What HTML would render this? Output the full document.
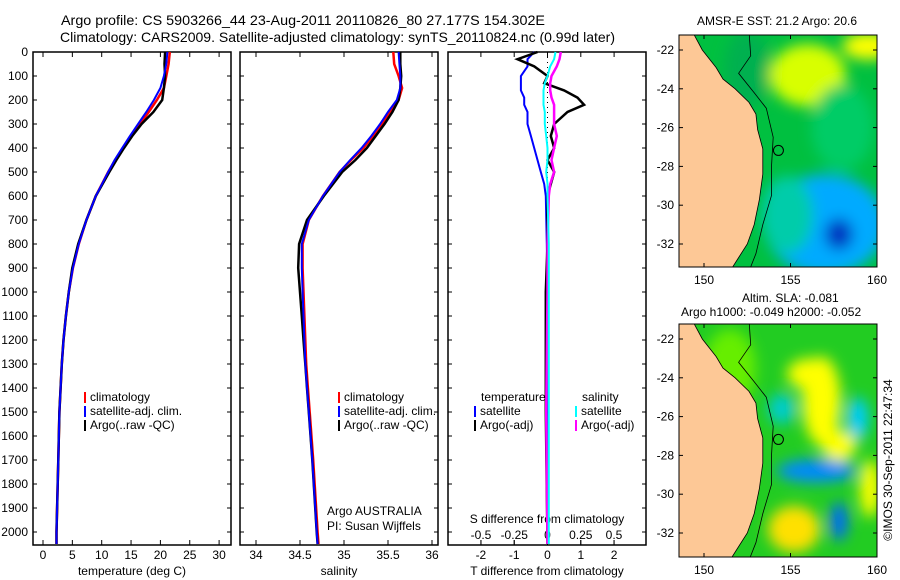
<!DOCTYPE html>
<html><head><meta charset="utf-8"><style>
body{margin:0;background:#fff;}
svg{display:block;font-family:"Liberation Sans",sans-serif;}
text{font-size:12px;fill:#000;}
</style></head><body>
<svg id="c" width="900" height="580" viewBox="0 0 900 580">
<defs>
<filter id="bl" x="-50%" y="-50%" width="200%" height="200%"><feGaussianBlur stdDeviation="7"/></filter>
<clipPath id="m1"><rect x="679" y="35" width="198" height="232"/></clipPath>
<clipPath id="m2"><rect x="679" y="324" width="198" height="233"/></clipPath>
</defs>
<text x="61" y="25" textLength="484" lengthAdjust="spacingAndGlyphs" style="font-size:14px">Argo profile: CS 5903266_44 23-Aug-2011 20110826_80 27.177S 154.302E</text>
<text x="60" y="42" textLength="555" lengthAdjust="spacingAndGlyphs" style="font-size:14px">Climatology: CARS2009. Satellite-adjusted climatology: synTS_20110824.nc (0.99d later)</text>
<g id="g"></g>
</svg>
<script>
// ---- data ----
const depths = [0,50,100,150,200,250,300,350,400,450,500,600,700,800,900,1000,1100,1200,1300,1400,1500,1700,2000,2050];
const tempClim = [21.6,21.4,21.0,20.6,19.4,18.0,16.6,15.1,13.6,12.3,11.1,9.0,7.4,6.1,5.1,4.4,3.9,3.5,3.2,3.0,2.8,2.6,2.3,2.3];
const tempSat  = [21.2,21.0,20.6,20.0,18.9,17.6,16.2,14.8,13.5,12.2,11.1,9.0,7.4,6.1,5.1,4.4,3.9,3.5,3.2,3.0,2.8,2.6,2.3,2.3];
const tempArgo = [20.8,20.7,20.8,20.6,20.3,18.8,16.8,15.2,13.8,12.5,11.3,9.0,7.4,6.0,5.0,4.4,3.9,3.5,3.2,3.0,2.8,2.6,2.3,2.3];
const salClim  = [35.56,35.57,35.62,35.66,35.62,35.52,35.43,35.33,35.22,35.08,34.95,34.76,34.60,34.53,34.53,34.54,34.55,34.56,34.57,34.59,34.61,34.65,34.70,34.71];
const salSat   = [35.62,35.63,35.64,35.64,35.60,35.50,35.41,35.31,35.20,35.07,34.95,34.76,34.60,34.52,34.52,34.53,34.54,34.55,34.56,34.58,34.60,34.64,34.69,34.70];
const salArgo  = [35.64,35.64,35.65,35.64,35.62,35.55,35.46,35.36,35.26,35.13,34.98,34.77,34.58,34.49,34.48,34.50,34.52,34.54,34.56,34.58,34.60,34.64,34.69,34.70];
const diffDepths = [0,30,60,100,130,160,190,220,250,300,350,400,450,500,550,600,800,1000,1500,2050];
const dTempSat  = [-0.4,-0.6,-0.6,-0.8,-0.8,-0.8,-0.7,-0.7,-0.6,-0.6,-0.5,-0.4,-0.3,-0.2,-0.1,-0.05,-0.02,0,0,0];
const dTempArgo = [-0.3,-0.9,-0.4,0.0,-0.1,0.5,0.9,1.1,0.6,0.2,0.1,0.2,0.0,0.2,0.1,0.0,0.0,-0.05,-0.05,0];
const dSalSat   = [0.06,0.05,0.02,0.0,-0.02,-0.03,-0.03,-0.03,-0.02,-0.02,-0.01,0.0,0.0,-0.01,0.0,0.0,0.01,0.01,0.01,0.01];
const dSalArgo  = [0.10,0.09,0.07,0.03,0.02,0.02,0.03,0.05,0.05,0.05,0.07,0.05,0.03,0.05,0.02,0.01,0.0,0.0,-0.01,0.0];
const depthTicks = [0,100,200,300,400,500,600,700,800,900,1000,1100,1200,1300,1400,1500,1600,1700,1800,1900,2000];
const tempTicks = [0,5,10,15,20,25,30];
const salTicks = [34,34.5,35,35.5,36];
const dTTicks = [-2,-1,0,1,2];
const dSTicks = [-0.5,-0.25,0,0.25,0.5];
const lonTicks = [150,155,160];
const latTicks = [-22,-24,-26,-28,-30,-32];

// ---- scales ----
const PB = 545;
const yD = d => 52 + d*0.24;
const xT = t => 43 + t*5.87;
const xS = s => 256 + (s-34)*88;
const xDT = t => 547.5 + t*33.3;
const xDS = s => 547.5 + s*133;
const NS='http://www.w3.org/2000/svg';
const G=document.getElementById('g');
function el(tag,attrs,parent){const e=document.createElementNS(NS,tag);for(const k in attrs)e.setAttribute(k,attrs[k]);(parent||G).appendChild(e);return e;}
function txt(x,y,s,anchor,size){const t=el('text',{x:x,y:y,'text-anchor':anchor||'start'});if(size)t.style.fontSize=size+'px';t.textContent=s;return t;}
function line(xs,ys,color,w,name){
  const pts=ys.map((v,i)=>xs(i).toFixed(1)+','+v.toFixed(1)).join(' ');
  const p=el('polyline',{points:pts,fill:'none',stroke:color,'stroke-width':w});
  
  
}
// panel frames
[[33,'temperature-panel'],[240,'salinity-panel'],[448,'difference-panel']].forEach(([x,n])=>{
  const r=el('rect',{x:x,y:52,width:198,height:PB-52,fill:'none',stroke:'#000','stroke-width':1.5});
  
  
});
depthTicks.forEach(d=>{
  const t=txt(28,yD(d)+4,String(d),'end');
  
  
  [33,240,448].forEach(x=>{el('line',{x1:x,x2:x+4,y1:yD(d),y2:yD(d),stroke:'#000'});el('line',{x1:x+198,x2:x+194,y1:yD(d),y2:yD(d),stroke:'#000'});});
});
function xticks(ticks,f,top){ticks.forEach(v=>{const x=f(v);el('line',{x1:x,x2:x,y1:PB,y2:PB-5,stroke:'#000'});if(top)el('line',{x1:x,x2:x,y1:52,y2:57,stroke:'#000'});
  const t=txt(x,559,String(v),'middle');});}
xticks(tempTicks,xT,true);xticks(salTicks,xS,true);xticks(dTTicks,xDT,true);
dSTicks.forEach(v=>{const x=xDS(v);el('line',{x1:x,x2:x,y1:PB,y2:PB-5,stroke:'#000'});const t=txt(x,539,String(v),'middle');});
let t;
t=txt(132,575,'temperature (deg C)','middle');
t=txt(339,575,'salinity','middle');
t=txt(547,575,'T difference from climatology','middle');
t=txt(547,523,'S difference from climatology','middle');
t=txt(327,515,'Argo AUSTRALIA');
t=txt(327,530,'PI: Susan Wijffels');
// zero dotted line
el('line',{x1:xDT(0),x2:xDT(0),y1:52,y2:PB,stroke:'#000','stroke-dasharray':'1,4'});
// profiles
line(i=>xT(tempClim[i]),depths.map(yD),'#f00',2.5,'temp-climatology-line');
line(i=>xT(tempArgo[i]),depths.map(yD),'#000',2.5,'temp-argo-line');
line(i=>xT(tempSat[i]),depths.map(yD),'#00f',2,'temp-satellite-line');
line(i=>xS(salClim[i]),depths.map(yD),'#f00',2.5,'sal-climatology-line');
line(i=>xS(salArgo[i]),depths.map(yD),'#000',2.5,'sal-argo-line');
line(i=>xS(salSat[i]),depths.map(yD),'#00f',2,'sal-satellite-line');
const dy=diffDepths.map(yD);
line(i=>xDT(dTempSat[i]),dy,'#00f',2,'tdiff-satellite-line');
line(i=>xDT(dTempArgo[i]),dy,'#000',2.5,'tdiff-argo-line');
line(i=>xDS(dSalArgo[i]),dy,'#f0f',2.5,'sdiff-argo-line');
line(i=>xDS(dSalSat[i]),dy,'#0ff',2,'sdiff-satellite-line');
// legends
function leg(x,y,c,s,n){el('rect',{x:x,y:y-9,width:2,height:11,fill:c});const t=txt(x+6,y,s);}
leg(84,401,'#f00','climatology','legend-climatology');leg(84,415,'#00f','satellite-adj. clim.','legend-satellite');leg(84,429,'#000','Argo(..raw -QC)','legend-argo');
leg(338,401,'#f00','climatology','legend-climatology-2');leg(338,415,'#00f','satellite-adj. clim.','legend-satellite-2');leg(338,429,'#000','Argo(..raw -QC)','legend-argo-2');
t=txt(481,401,'temperature');
t=txt(582,401,'salinity');
leg(474,415,'#00f','satellite','legend-t-satellite');leg(474,429,'#000','Argo(-adj)','legend-t-argo');
leg(575,415,'#0ff','satellite','legend-s-satellite');leg(575,429,'#f0f','Argo(-adj)','legend-s-argo');

// ---- maps ----
const mapLon = lon => 704 + (lon-150)*17.3;
const mapLat = (lat,oy) => oy + 15 + (-22-lat)*19.4;
const coast = [[149.3,-21.0],[149.9,-22],[150.7,-22.9],[151.1,-23.5],[151.8,-24.0],[152.6,-24.7],[153.0,-25.3],[153.1,-26.1],[153.4,-27.1],[153.4,-28.4],[153.2,-29.7],[152.9,-31.0],[152.5,-32.0],[152.0,-32.7],[151.5,-33.4]];
const isobath = [[152.6,-21.0],[152.7,-22.3],[152.0,-23.2],[152.9,-24.2],[153.6,-25.0],[154.0,-26.5],[153.9,-28.0],[153.9,-29.5],[153.4,-31.0],[153.0,-32.5],[152.6,-33.4]];
const sstBlobs = [[156,-23.3,2.2,1.6,'#d8ff00'],[159.5,-21.8,1.5,0.7,'#ffff00'],[152.5,-23,1.3,2,'#00b050'],[157,-31,3.5,2.6,'#00aaff'],[157.8,-31.5,0.8,0.8,'#0030c0'],[154.8,-30.5,1.5,2,'#00ccaa'],[158,-26,1.8,2.2,'#00cc66']];
const slaBlobs = [[156.8,-25.2,1.1,2.3,'#ffff00'],[156.1,-23.8,1.3,0.8,'#ffff00'],[157.8,-27.5,1,0.8,'#ffff00'],[154.5,-25.6,0.8,0.8,'#00cccc'],[158.9,-26.1,0.6,1.1,'#00ccff'],[156.5,-28.8,2.3,0.6,'#0088ff'],[155.2,-31.8,1.5,1.2,'#ffe000'],[157.8,-31.4,0.5,1,'#0066ff'],[159.6,-29.7,0.6,1.5,'#ffff00'],[151.5,-23.5,1.5,2,'#66ee00']];
function drawMap(oy,h,clip,bg,blobs,name){
  const g=el('g',{'clip-path':'url(#'+clip+')'});
  
  
  el('rect',{x:679,y:oy,width:198,height:h,fill:bg},g);
  const bg2=el('g',{filter:'url(#bl)'},g);
  blobs.forEach(b=>{el('ellipse',{cx:mapLon(b[0]),cy:mapLat(b[1],oy),rx:b[2]*17.3,ry:b[3]*19.4,fill:b[4]},bg2);});
  const pts=coast.map(c=>mapLon(c[0]).toFixed(1)+','+mapLat(c[1],oy).toFixed(1));
  const land=[ '670,'+(oy-10), ...pts, '670,'+(oy+250)].join(' ');
  el('polygon',{points:land,fill:'#fdc896',stroke:'#000','stroke-width':0.8},g);
  const iso=isobath.map(c=>mapLon(c[0]).toFixed(1)+','+mapLat(c[1],oy).toFixed(1)).join(' ');
  el('polyline',{points:iso,fill:'none',stroke:'#000','stroke-width':0.8},g);
  const ring=el('circle',{cx:mapLon(154.302),cy:mapLat(-27.177,oy),r:5,fill:'none',stroke:'#000','stroke-width':1},g);
  
  
  el('rect',{x:679,y:oy,width:198,height:h,fill:'none',stroke:'#000'});
  latTicks.forEach(l=>{const y=mapLat(l,oy);el('line',{x1:679,x2:683,y1:y,y2:y,stroke:'#000'});el('line',{x1:877,x2:873,y1:y,y2:y,stroke:'#000'});
    const t=txt(674,y+4,String(l),'end');});
  lonTicks.forEach(l=>{const x=mapLon(l);el('line',{x1:x,x2:x,y1:oy,y2:oy+4,stroke:'#000'});el('line',{x1:x,x2:x,y1:oy+h,y2:oy+h-4,stroke:'#000'});
    const t=txt(x,oy+h+17,String(l),'middle');});
}
drawMap(35,232,'m1','#00c040',sstBlobs,'sst-map');
drawMap(324,233,'m2','#22cc22',slaBlobs,'sla-map');
t=txt(777,25,'AMSR-E SST: 21.2 Argo: 20.6','middle');
t=txt(742,302,'Altim. SLA: -0.081');
t=txt(681,316,'Argo h1000: -0.049 h2000: -0.052');
t=txt(0,0,'©IMOS 30-Sep-2011 22:47:34','middle');t.setAttribute('transform','translate(892,460) rotate(-90)');
</script>
</body></html>
